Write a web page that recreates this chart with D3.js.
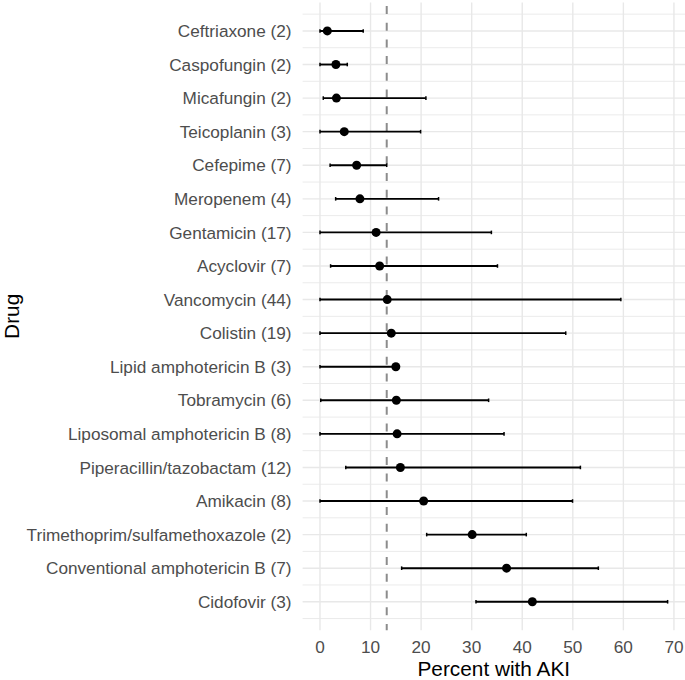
<!DOCTYPE html>
<html>
<head>
<meta charset="utf-8">
<script src="https://cdn.jsdelivr.net/npm/d3@7"></script>
<style>
  html, body { margin: 0; padding: 0; background: #fff; }
  svg { display: block; font-family: "Liberation Sans", Arial, Helvetica, sans-serif; }
</style>
</head>
<body>
<svg id="chart" width="685" height="680"></svg>
<script>
// ---- data (top to bottom) ----
const drugs = [
  "Ceftriaxone (2)", "Caspofungin (2)", "Micafungin (2)", "Teicoplanin (3)",
  "Cefepime (7)", "Meropenem (4)", "Gentamicin (17)", "Acyclovir (7)",
  "Vancomycin (44)", "Colistin (19)", "Lipid amphotericin B (3)", "Tobramycin (6)",
  "Liposomal amphotericin B (8)", "Piperacillin/tazobactam (12)", "Amikacin (8)",
  "Trimethoprim/sulfamethoxazole (2)", "Conventional amphotericin B (7)", "Cidofovir (3)"
];
const estimate = [1.45, 3.15, 3.25, 4.8, 7.25, 7.9, 11.1, 11.8, 13.3, 14.1, 15.0, 15.1, 15.25, 15.9, 20.5, 30.1, 36.9, 42.0];
const lower    = [0, 0, 0.65, 0, 2.0, 3.1, 0, 2.1, 0, 0, 0, 0.15, 0, 5.1, 0, 21.1, 16.15, 30.85];
const upper    = [8.55, 5.4, 20.95, 19.9, 13.2, 23.45, 33.9, 35.1, 59.5, 48.6, 15.0, 33.35, 36.4, 51.5, 49.95, 40.8, 55.05, 68.75];
const xTicks = [0, 10, 20, 30, 40, 50, 60, 70];
const refLine = 13.2;
const xTitle = "Percent with AKI";
const yTitle = "Drug";

// ---- layout ----
const svg = d3.select("#chart");
const panel = { left: 302.6, right: 685, top: 2.4, bottom: 630.3 };

const xMin = d3.min(lower), xMax = d3.max(upper);
const xPad = (xMax - xMin) * 0.05;
const x = d3.scaleLinear().domain([xMin - xPad, xMax + xPad]).range([panel.left, panel.right]);

const n = drugs.length;
const yPad = (n - 1) * 0.05;
const yNum = d3.scaleLinear().domain([1 - yPad, n + yPad]).range([panel.top, panel.bottom]);
const yPos = i => yNum(i + 1);

const grid = svg.append("g");
// horizontal minor grid (between rows)
d3.range(0.5, n + 1, 1).forEach(v => {
  if (v < 1 - yPad || v > n + yPad) return;
  grid.append("line").attr("x1", panel.left).attr("x2", panel.right)
    .attr("y1", yNum(v)).attr("y2", yNum(v))
    .attr("stroke", "#ebebeb").attr("stroke-width", 1);
});
// horizontal major grid
drugs.forEach((d, i) => {
  grid.append("line").attr("x1", panel.left).attr("x2", panel.right)
    .attr("y1", yPos(i)).attr("y2", yPos(i))
    .attr("stroke", "#e8e8e8").attr("stroke-width", 1.4);
});
// vertical grid
xTicks.forEach(t => {
  grid.append("line").attr("x1", x(t)).attr("x2", x(t))
    .attr("y1", panel.top).attr("y2", panel.bottom)
    .attr("stroke", "#e8e8e8").attr("stroke-width", 1.4);
});

// reference dashed line
svg.append("line")
  .attr("x1", x(refLine)).attr("x2", x(refLine))
  .attr("y1", panel.top).attr("y2", panel.bottom)
  .attr("stroke", "#8c8c8c").attr("stroke-width", 2)
  .attr("stroke-dasharray", "8,8.7").attr("stroke-dashoffset", -3.6);

// error bars
const bars = svg.append("g");
drugs.forEach((d, i) => {
  const cy = yPos(i);
  bars.append("line").attr("x1", x(lower[i])).attr("x2", x(upper[i]))
    .attr("y1", cy).attr("y2", cy).attr("stroke", "#000").attr("stroke-width", 1.9);
  [lower[i], upper[i]].forEach(v => {
    bars.append("line").attr("x1", x(v)).attr("x2", x(v))
      .attr("y1", cy - 1.8).attr("y2", cy + 1.8).attr("stroke", "#000").attr("stroke-width", 1.5);
  });
});
// points
svg.append("g").selectAll("circle").data(estimate).join("circle")
  .attr("cx", d => x(d)).attr("cy", (d, i) => yPos(i)).attr("r", 4.5).attr("fill", "#000");

// y labels
svg.append("g").selectAll("text").data(drugs).join("text")
  .attr("x", 291.5).attr("y", (d, i) => yPos(i)).attr("dy", "0.36em")
  .attr("text-anchor", "end").attr("font-size", 17.2).attr("fill", "#4d4d4d")
  .text(d => d);

// x tick labels
svg.append("g").selectAll("text").data(xTicks).join("text")
  .attr("x", d => x(d)).attr("y", 653)
  .attr("text-anchor", "middle").attr("font-size", 17.2).attr("fill", "#4d4d4d")
  .text(d => d);

// axis titles
svg.append("text").attr("x", (panel.left + panel.right) / 2).attr("y", 676)
  .attr("text-anchor", "middle").attr("font-size", 20.8).attr("fill", "#000").text(xTitle);
svg.append("text").attr("transform", `translate(19,${(panel.top + panel.bottom) / 2}) rotate(-90)`)
  .attr("text-anchor", "middle").attr("font-size", 20.8).attr("fill", "#000").text(yTitle);
</script>
</body>
</html>
